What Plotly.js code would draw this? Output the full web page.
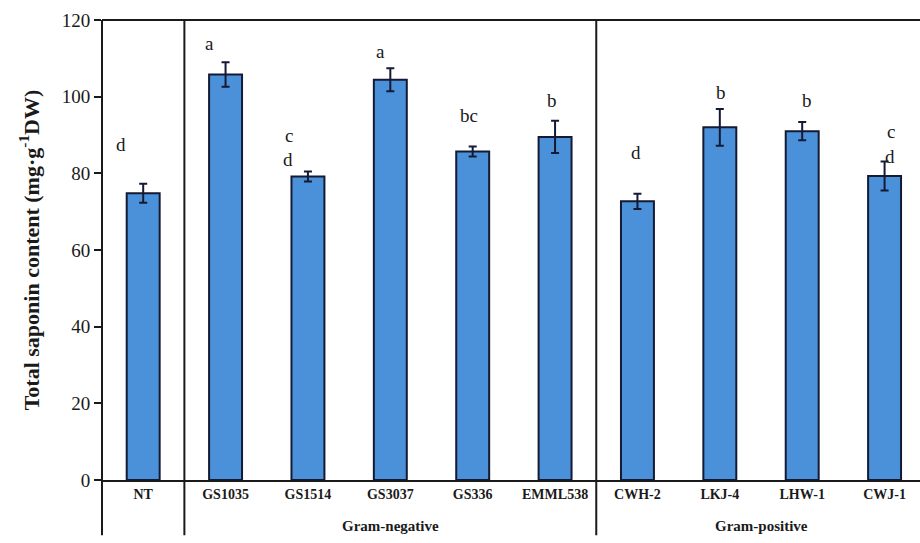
<!DOCTYPE html>
<html>
<head>
<meta charset="utf-8">
<script src="https://cdn.plot.ly/plotly-3.0.1.min.js"></script>
<style>
  html, body { margin: 0; padding: 0; background: #fff; }
  #chart { width: 920px; height: 543px; }
</style>
</head>
<body>
<div id="chart"></div>
<script>
// Strains and their total saponin content (mean ± error)
const strains = ["NT", "GS1035", "GS1514", "GS3037", "GS336", "EMML538", "CWH-2", "LKJ-4", "LHW-1", "CWJ-1"];
const saponin = [74.8, 105.8, 79.2, 104.4, 85.7, 89.5, 72.7, 92.0, 91.0, 79.3];
const errors = [2.5, 3.2, 1.3, 3.0, 1.3, 4.2, 2.0, 4.8, 2.4, 3.8];
// Significance letters (two rows where a bar carries two letters)
const lettersTop = ["d", "a", "c", "a", "bc", "b", "d", "b", "b", "c"];
const lettersLow = ["", "", "d", "", "", "", "", "", "", "d"];
// Bacterial groups
const groupNames = ["Gram-negative", "Gram-positive"];

// Label placement (y in axis units, x offset in px, strain index span of each group)
const topLabelY = [87.5, 113.8, 89.8, 111.8, 95.0, 99.0, 85.5, 101.0, 99.0, 91.0];
const lowLabelY = [0, 0, 83.5, 0, 0, 0, 0, 0, 0, 84.5];
const labelShift = [-22, -16, -19, -10, -4, -3, -1, 1, 5, 6];
const groupSpans = [[1, 5], [6, 9]];

const serif = "Liberation Serif, Times New Roman, serif";
const ink = "#1a1a1a";

const bars = {
  type: "bar",
  x: strains.map((_, i) => i),
  y: saponin,
  width: 0.4,
  marker: { color: "#4b91da", line: { color: "#141a33", width: 2 } },
  error_y: { type: "data", array: errors, visible: true, color: "#141a33", thickness: 2, width: 4 },
  hoverinfo: "skip"
};

const annotations = [];
strains.forEach((_, i) => {
  annotations.push({
    x: i, y: topLabelY[i], xref: "x", yref: "y", text: lettersTop[i],
    showarrow: false, xshift: labelShift[i],
    font: { family: serif, size: 19, color: ink }
  });
  if (lettersLow[i]) {
    annotations.push({
      x: i, y: lowLabelY[i], xref: "x", yref: "y", text: lettersLow[i],
      showarrow: false, xshift: labelShift[i] - 1,
      font: { family: serif, size: 19, color: ink }
    });
  }
});
groupNames.forEach((g, k) => {
  annotations.push({
    x: (groupSpans[k][0] + groupSpans[k][1]) / 2, y: -0.1, xref: "x", yref: "paper",
    text: "<b>" + g + "</b>", showarrow: false, yanchor: "middle",
    font: { family: serif, size: 15, color: ink }
  });
});

const lineStyle = { color: ink, width: 2 };
const shapes = [
  // top frame line
  { type: "line", xref: "paper", yref: "paper", x0: 0, x1: 1, y0: 1, y1: 1, line: lineStyle },
  // left axis carried down past the category labels
  { type: "line", xref: "paper", yref: "paper", x0: 0, x1: 0, y0: -0.12, y1: 1, line: lineStyle },
  // group separators
  { type: "line", xref: "x", yref: "paper", x0: 0.5, x1: 0.5, y0: -0.12, y1: 1, line: lineStyle },
  { type: "line", xref: "x", yref: "paper", x0: 5.5, x1: 5.5, y0: -0.12, y1: 1, line: lineStyle }
];

const layout = {
  width: 920, height: 543,
  margin: { l: 102, r: 0, t: 20, b: 63 },
  paper_bgcolor: "#fff", plot_bgcolor: "#fff",
  showlegend: false,
  xaxis: {
    range: [-0.5, 9.43],
    tickmode: "array",
    tickvals: strains.map((_, i) => i),
    ticktext: strains.map(s => "<b>" + s + "</b>"),
    ticks: "",
    showline: true, linecolor: ink, linewidth: 2,
    showgrid: false, zeroline: false,
    tickfont: { family: serif, size: 14, color: ink },
    fixedrange: true
  },
  yaxis: {
    range: [0, 120],
    tickvals: [0, 20, 40, 60, 80, 100, 120],
    ticks: "outside", ticklen: 7, tickwidth: 2, tickcolor: ink,
    showline: false, showgrid: false, zeroline: false,
    tickfont: { family: serif, size: 19, color: ink },
    title: {
      text: "<b>Total saponin content (mg·g<sup>-1</sup>DW)</b>",
      font: { family: serif, size: 22, color: ink },
      standoff: 16
    },
    fixedrange: true
  },
  annotations: annotations,
  shapes: shapes
};

Plotly.newPlot("chart", [bars], layout, { displayModeBar: false, staticPlot: true });
</script>
</body>
</html>
